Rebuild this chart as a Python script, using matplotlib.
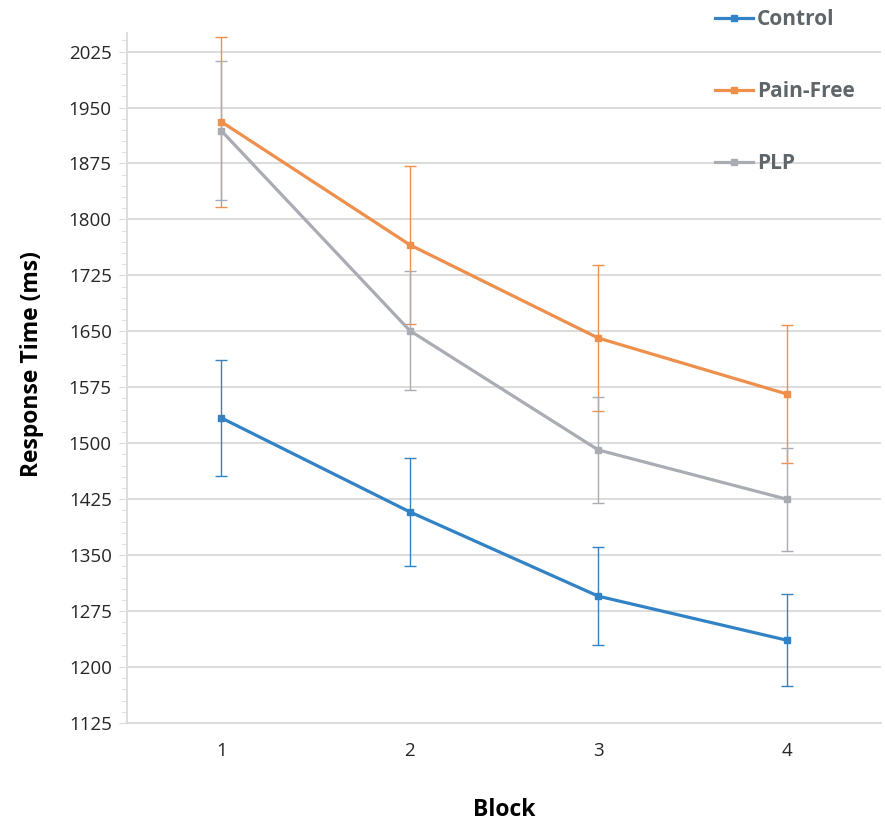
import matplotlib.pyplot as plt
from matplotlib.lines import Line2D
from matplotlib.ticker import MultipleLocator

blocks = [1, 2, 3, 4]
control = [1534, 1408, 1295, 1236]
control_err = [78, 72, 66, 62]
pain_free = [1931, 1766, 1641, 1566]
pain_free_err = [114, 106, 98, 93]
plp = [1919, 1651, 1491, 1425]
plp_err = [93, 80, 71, 69]

plt.rcParams['font.family'] = ['Open Sans', 'DejaVu Sans']

fig = plt.figure(figsize=(8.85, 8.23), dpi=100)
ax = fig.add_axes([0.1435, 0.1215, 0.852, 0.8385])

series = [
  ("Control", control, control_err, '#3282C6'),
  ("Pain-Free", pain_free, pain_free_err, '#EE8F4C'),
  ("PLP", plp, plp_err, '#A9ADB3'),
]
handles = []
for name, vals, errs, col in series:
  ax.errorbar(blocks, vals, yerr=errs, color=col, lw=2.3, marker='s', ms=5,
              ecolor=col, elinewidth=1.0, capsize=4.5, capthick=1.0)
  handles.append(Line2D([], [], color=col, lw=2.3, marker='s', ms=5, label=name))

ax.set_xlim(0.5, 4.5)
ax.set_ylim(1125, 2050)
ax.set_xticks(blocks)
ax.yaxis.set_major_locator(MultipleLocator(75))
ax.yaxis.set_minor_locator(MultipleLocator(15))
ax.set_yticks(range(1125, 2026, 75))
ax.grid(axis='y', color='#D9D9D9', lw=1.3)
ax.set_axisbelow(True)
for s in ['top', 'right']:
  ax.spines[s].set_visible(False)
for s in ['left', 'bottom']:
  ax.spines[s].set_color('#D9D9E0')
  ax.spines[s].set_linewidth(1.3)
ax.tick_params(axis='y', which='major', length=6, color='#D9D9E0', labelsize=13.5, labelcolor='#262626', pad=5)
ax.tick_params(axis='y', which='minor', length=4, color='#D9D9E0')
ax.tick_params(axis='x', length=0, labelsize=13.5, labelcolor='#262626', pad=14)

ax.set_ylabel("Response Time (ms)", fontsize=16.5, fontweight='bold')
ax.yaxis.set_label_coords(-0.11, 0.52)
ax.set_xlabel("Block", fontsize=16.5, fontweight='bold')
ax.xaxis.set_label_coords(0.5, -0.108)

leg = fig.legend(handles=handles, loc='upper left', bbox_to_anchor=(0.787, 1.012), frameon=False,
                 labelspacing=2.45, handlelength=1.8, handletextpad=0.2,
                 prop={'weight': 'bold', 'size': 15})
for t in leg.get_texts():
  t.set_color('#5F6669')

fig.savefig("out.png", dpi=100)
